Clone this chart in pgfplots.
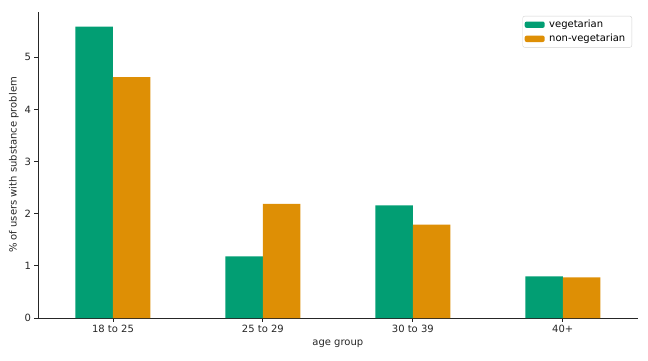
\documentclass[border=0pt]{standalone}
\usepackage{pgfplots}
\pgfplotsset{compat=1.18}
\usepackage{fontspec}
\setmainfont{DejaVu Sans}
\definecolor{veg}{HTML}{029E73}
\definecolor{nonveg}{HTML}{DE8F05}
\definecolor{axisgray}{HTML}{262626}
\begin{document}
\begin{tikzpicture}[x=1bp,y=1bp]
\useasboundingbox (0,0) rectangle (648,360);
\begin{axis}[
  at={(38bp,42bp)}, anchor=south west,
  width=599.7bp, height=306bp, scale only axis,
  xmin=-0.5, xmax=3.5, ymin=0, ymax=5.87,
  axis x line*=bottom, axis y line*=left,
  axis line style={line width=0.8bp, color=axisgray, -},
  xtick={0,1,2,3},
  xticklabels={18 to 25,25 to 29,30 to 39,40+},
  ytick={0,1,2,3,4,5},
  tick align=outside,
  major tick length=3.5bp,
  tick style={line width=0.8bp, color=axisgray},
  ticklabel style={font=\fontsize{10bp}{12bp}\selectfont, text=axisgray},
  /pgf/number format/assume math mode=true,
  xlabel={age group},
  ylabel={\% of users with substance problem},
  ylabel style={yshift=-1bp},
  label style={font=\fontsize{10bp}{12bp}\selectfont, text=axisgray},
  ybar, bar width=37.5bp,
  legend style={at={(rel axis cs:0.9905,0.987)}, anchor=north east,
    draw=lightgray!70, rounded corners=2bp, font=\fontsize{10bp}{12bp}\selectfont,
    inner xsep=2bp, inner ysep=2.5bp, row sep=2bp,
    nodes={inner xsep=4.5bp, inner ysep=1.5bp}},
  legend cell align=left,
  legend image code/.code={\fill[#1] (0bp,-3.2bp) rectangle (20bp,3.2bp);},
]
\addplot[fill=veg, draw=none, bar shift=-18.75bp] coordinates {(0,5.59) (1,1.18) (2,2.16) (3,0.80)};
\addplot[fill=nonveg, draw=none, bar shift=18.75bp] coordinates {(0,4.62) (1,2.19) (2,1.79) (3,0.78)};
\legend{vegetarian,non-vegetarian}
\end{axis}
\end{tikzpicture}
\end{document}
